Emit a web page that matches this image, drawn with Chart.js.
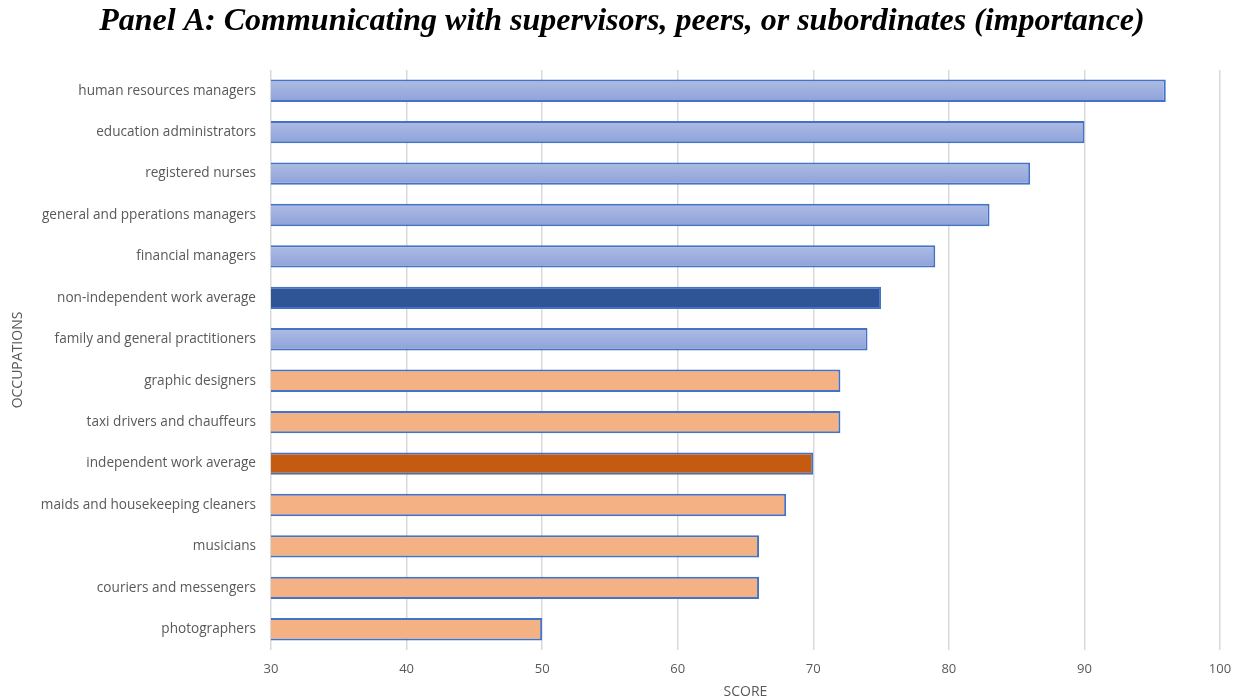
<!DOCTYPE html>
<html>
<head>
<meta charset="utf-8">
<script src="https://cdn.jsdelivr.net/npm/chart.js@4/dist/chart.umd.min.js"></script>
<style>
html,body{margin:0;padding:0;background:#fff;}
#wrap{width:1244px;height:700px;position:relative;}
</style>
</head>
<body>
<div id="wrap"><canvas id="c" width="1244" height="700"></canvas></div>
<script>
const titleText = 'Panel A: Communicating with supervisors, peers, or subordinates (importance)';
const categories = [
  'human resources managers',
  'education administrators',
  'registered nurses',
  'general and pperations managers',
  'financial managers',
  'non-independent work average',
  'family and general practitioners',
  'graphic designers',
  'taxi drivers and chauffeurs',
  'independent work average',
  'maids and housekeeping cleaners',
  'musicians',
  'couriers and messengers',
  'photographers'
];
const scores = [96, 90, 86, 83, 79, 75, 74, 72, 72, 70, 68, 66, 66, 50];
// group: 'nonInd' light blue, 'nonIndAvg' dark blue, 'ind' orange, 'indAvg' dark orange
const groups = ['nonInd','nonInd','nonInd','nonInd','nonInd','nonIndAvg','nonInd','ind','ind','indAvg','ind','ind','ind','ind'];
const xTicks = [30, 40, 50, 60, 70, 80, 90, 100];

const tickColor = '#595959';
const fontFam = '"Open Sans", sans-serif';

function fillFor(ctx) {
  const g = groups[ctx.dataIndex];
  if (g === 'nonIndAvg') return '#2F5597';
  if (g === 'ind') return '#F4B183';
  if (g === 'indAvg') return '#C55A11';
  const chart = ctx.chart;
  const ys = chart.scales && chart.scales.y;
  if (!chart.chartArea || !ys || isNaN(ys.getPixelForValue(0))) return '#A0B1DF';
  const yc = ys.getPixelForValue(ctx.dataIndex);
  const h = 11;
  const gr = chart.ctx.createLinearGradient(0, yc - h, 0, yc + h);
  gr.addColorStop(0, '#AEBCE4');
  gr.addColorStop(1, '#8EA2DA');
  return gr;
}

new Chart(document.getElementById('c'), {
  type: 'bar',
  data: {
    labels: categories,
    datasets: [{
      data: scores,
      backgroundColor: fillFor,
      borderColor: '#4472C4',
      borderWidth: 2,
      borderSkipped: false,
      barPercentage: 0.54,
      categoryPercentage: 1.0
    }]
  },
  options: {
    indexAxis: 'y',
    responsive: false,
    animation: false,
    devicePixelRatio: 1,
    layout: { padding: 0 },
    plugins: {
      legend: { display: false },
      tooltip: { enabled: false },
      title: {
        display: true,
        text: titleText,
        color: '#000',
        font: { family: '"Liberation Serif", "Times New Roman", serif', size: 32, style: 'italic', weight: 'bold', lineHeight: 1.2 },
        padding: { top: 3, bottom: 28.6 }
      }
    },
    scales: {
      x: {
        min: 30, max: 100,
        afterBuildTicks: (s) => { s.ticks = xTicks.map(v => ({ value: v })); },
        afterFit: (s) => { s.height = 50; },
        grid: { color: '#D9D9D9', lineWidth: 1.5, drawTicks: false },
        border: { display: false },
        ticks: { color: tickColor, font: { family: fontFam, size: 13 }, padding: 11 },
        title: { display: true, text: 'SCORE', color: tickColor, font: { family: fontFam, size: 14 }, padding: { top: 3, bottom: 0 } }
      },
      y: {
        afterFit: (s) => { s.width = 271; },
        grid: { display: false, drawTicks: false },
        border: { display: false },
        ticks: { color: tickColor, font: { family: fontFam, size: 13.6 }, padding: 15, autoSkip: false },
        title: { display: true, text: 'OCCUPATIONS', color: tickColor, font: { family: fontFam, size: 14 }, padding: { top: 10, bottom: 0 } }
      },
      yRight: {
        type: 'category',
        position: 'right',
        afterFit: (s) => { s.width = 24; },
        grid: { display: false, drawTicks: false },
        border: { display: false },
        ticks: { display: false }
      }
    }
  }
});
</script>
</body>
</html>
